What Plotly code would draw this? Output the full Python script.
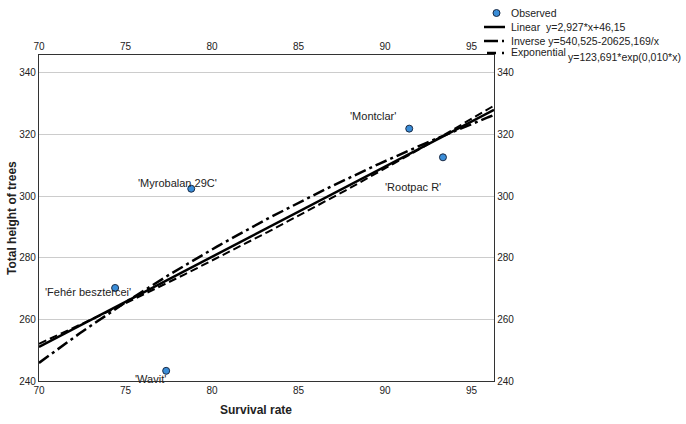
import numpy as np
import plotly.graph_objects as go

cultivars = ["'Fehér besztercei'", "'Wavit'", "'Myrobalan 29C'", "'Montclar'", "'Rootpac R'"]
survival = [74.4, 77.35, 78.8, 91.4, 93.35]
height = [270.2, 243.3, 302.4, 321.9, 312.6]

lin_a, lin_b = 2.927, 46.15
inv_a, inv_b = 540.525, 20625.169
exp_a, exp_b = 123.691, 0.01017

legend_names = ["Observed", "Linear  y=2,927*x+46,15", "Inverse y=540,525-20625,169/x",
                "Exponential", "y=123,691*exp(0,010*x)"]
x_title = "Survival rate"
y_title = "Total height of trees"

x_range = [70, 96.3]
y_range = [240, 345.8]
xs = np.linspace(x_range[0], x_range[1], 200)

W, H = 686, 424
L, R, T, B = 39, 192, 55, 43
pw, ph = W - L - R, H - T - B


def px(xp):
    return (xp - L) / pw


def py(yp):
    return (H - B - yp) / ph


font = "Arial, Liberation Sans, sans-serif"
marker_color = "#3a8dd8"
marker_line = "#1a2a44"
inv_dash = "12px,4px,3px,4px"
exp_dash = "8px,4px"

fig = go.Figure()
fig.add_trace(go.Scatter(x=survival, y=height, mode="markers", name="Observed", showlegend=False,
                         marker=dict(color=marker_color, size=7, line=dict(color=marker_line, width=1))))
fig.add_trace(go.Scatter(x=xs, y=lin_a * xs + lin_b, mode="lines", showlegend=False,
                         line=dict(color="black", width=2.5)))
fig.add_trace(go.Scatter(x=xs, y=inv_a - inv_b / xs, mode="lines", showlegend=False,
                         line=dict(color="black", width=2.5, dash=inv_dash)))
fig.add_trace(go.Scatter(x=xs, y=exp_a * np.exp(exp_b * xs), mode="lines", showlegend=False,
                         line=dict(color="black", width=2, dash=exp_dash)))
# mirror axes carrier
fig.add_trace(go.Scatter(x=[x_range[0]], y=[y_range[0]], xaxis="x2", yaxis="y2", mode="markers",
                         marker=dict(opacity=0), showlegend=False, hoverinfo="skip"))

offsets = [(-27, 4), (-16, 8), (-14, -6), (-36, -13), (-30, 30)]
for (dx, dy), c, x, y in zip(offsets, cultivars, survival, height):
    fig.add_annotation(x=x, y=y, text=c, showarrow=True, arrowcolor="rgba(0,0,0,0)",
                       ax=dx, ay=dy, font=dict(family=font, size=11, color="#222"))

# manual compact legend (outside plot, top right)
lt = dict(family=font, size=10.5, color="#222")
fig.add_shape(type="circle", xref="paper", yref="paper",
              x0=px(493), x1=px(500), y0=py(16.5), y1=py(9.5),
              fillcolor=marker_color, line=dict(color=marker_line, width=1))
fig.add_shape(type="line", xref="paper", yref="paper", x0=px(484), x1=px(505), y0=py(27), y1=py(27),
              line=dict(color="black", width=2.5))
fig.add_shape(type="line", xref="paper", yref="paper", x0=px(484), x1=px(506), y0=py(41), y1=py(41),
              line=dict(color="black", width=2.5, dash="14px,4px,2px,4px"))
fig.add_shape(type="line", xref="paper", yref="paper", x0=px(487), x1=px(506), y0=py(53), y1=py(53),
              line=dict(color="black", width=2.5, dash="9px,6px,2px,4px"))
text_pos = [(509, 13), (509, 27), (509, 41), (509, 52), (566, 57)]
for name, (tx, ty) in zip(legend_names, text_pos):
    fig.add_annotation(xref="paper", yref="paper", x=px(tx), y=py(ty), text=name, showarrow=False,
                       xanchor="left", yanchor="middle", font=lt)

# axis titles
tf = dict(family=font, size=12, color="#222")
fig.add_annotation(xref="paper", yref="paper", x=px(256), y=py(410), text=f"<b>{x_title}</b>",
                   showarrow=False, xanchor="center", yanchor="middle", font=tf)
fig.add_annotation(xref="paper", yref="paper", x=px(12), y=py(218), text=f"<b>{y_title}</b>",
                   showarrow=False, xanchor="center", yanchor="middle", textangle=-90, font=tf)

axcommon = dict(showline=True, linecolor="#333", linewidth=1.3, ticks="", zeroline=False,
                automargin=False, tickfont=dict(family=font, size=10, color="#222"))
fig.update_layout(
    width=W, height=H,
    margin=dict(l=L, r=R, t=T, b=B, autoexpand=False),
    plot_bgcolor="white", paper_bgcolor="white",
    xaxis=dict(range=x_range, tickvals=[70, 75, 80, 85, 90, 95], showgrid=False, **axcommon),
    yaxis=dict(range=y_range, tickvals=[240, 260, 280, 300, 320, 340], showgrid=True,
               gridcolor="#cccccc", gridwidth=1, **axcommon),
    xaxis2=dict(range=x_range, tickvals=[70, 75, 80, 85, 90, 95], overlaying="x", side="top",
                showgrid=False, **axcommon),
    yaxis2=dict(range=y_range, tickvals=[240, 260, 280, 300, 320, 340], overlaying="y", side="right",
                showgrid=False, **axcommon),
    showlegend=False,
)
fig.write_html("out.html")
